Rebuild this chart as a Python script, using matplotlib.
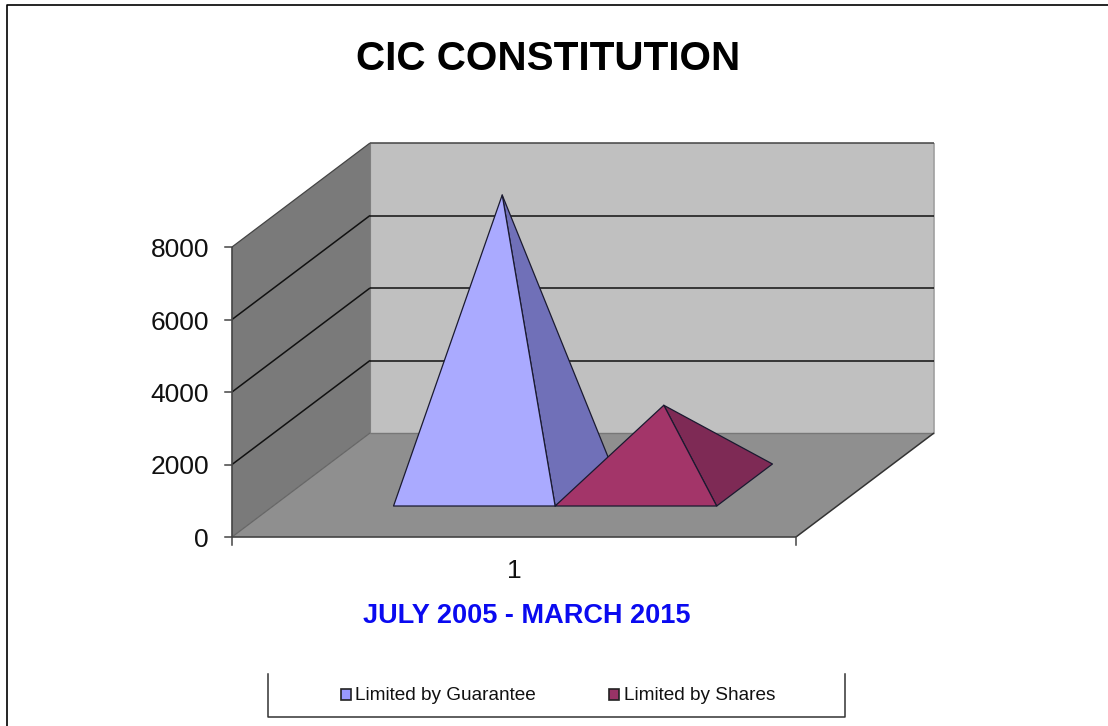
import matplotlib
matplotlib.use("Agg")
import matplotlib.pyplot as plt
from matplotlib.patches import Polygon, Rectangle

plt.rcParams['font.family'] = ['Liberation Sans', 'DejaVu Sans']

title = "CIC CONSTITUTION"
x_title = "JULY 2005 - MARCH 2015"
category = "1"
series_names = ["Limited by Guarantee", "Limited by Shares"]
series_values = [8000, 2200]
series_front = ["#AAAAFF", "#A33569"]
series_side = ["#7070B8", "#7E2A55"]
y_ticks = [0, 2000, 4000, 6000, 8000]
y_max = 8000

W, H = 1108, 726
fig = plt.figure(figsize=(W / 100, H / 100), dpi=100)
ax = fig.add_axes([0, 0, 1, 1])
ax.set_xlim(0, W)
ax.set_ylim(H, 0)
ax.axis("off")

# 3-D box projection in image pixels: u along the category axis, v value, d depth
FL = (232, 537)
BOX_W, BOX_H = 564, 290
DEPTH = (138, -104)


def proj(u, v, d):
    return (FL[0] + u * BOX_W + d * DEPTH[0],
            FL[1] - v / y_max * BOX_H + d * DEPTH[1])


def poly(pts, fc, ec="none", lw=0.0, z=1):
    ax.add_patch(Polygon(pts, closed=True, facecolor=fc, edgecolor=ec, linewidth=lw,
                         joinstyle="round", zorder=z))


def line(a, b, c="#111111", lw=1.1, z=2):
    ax.plot([a[0], b[0]], [a[1], b[1]], color=c, lw=lw, zorder=z, solid_capstyle="butt")


# walls and floor
poly([proj(0, 0, 1), proj(1, 0, 1), proj(1, y_max, 1), proj(0, y_max, 1)], "#C0C0C0")
poly([proj(0, 0, 0), proj(0, 0, 1), proj(0, y_max, 1), proj(0, y_max, 0)], "#7A7A7A")
poly([proj(0, 0, 0), proj(1, 0, 0), proj(1, 0, 1), proj(0, 0, 1)], "#8F8F8F")

line(proj(1, 0, 1), proj(1, y_max, 1), "#A0A0A0", 1.2)
line(proj(0, 0, 1), proj(0, y_max, 1), "#808080", 0.8)
line(proj(0, 0, 1), proj(1, 0, 1), "#777777", 1.0)
line(proj(0, 0, 0), proj(0, 0, 1), "#666666", 0.9)
line(proj(1, 0, 0), proj(1, 0, 1), "#333333", 1.1)
line(proj(0, y_max, 0), proj(0, y_max, 1), "#444444", 0.9)

for t in y_ticks[1:-1]:
    line(proj(0, t, 0), proj(0, t, 1))
for t in y_ticks[1:-1]:
    line(proj(0, t, 1), proj(1, t, 1))
line(proj(0, y_max, 1), proj(1, y_max, 1), "#444444", 1.1)

# axes and ticks
line(proj(0, 0, 0), proj(1, 0, 0), "#444444", 1.2, z=3)
line(proj(0, 0, 0), proj(0, y_max, 0), "#444444", 1.2, z=3)
for t in y_ticks:
    x, y = proj(0, t, 0)
    ax.plot([x - 7, x], [y, y], color="#444444", lw=1.1, zorder=3)
    ax.text(x - 23, y + 3, str(t), ha="right", va="center", fontsize=19, color="#111111")
for u in (0, 1):
    x, y = proj(u, 0, 0)
    ax.plot([x, x], [y, y + 8], color="#444444", lw=1.1, zorder=3)

# pyramids
BAR_W = 0.2865
D0, D1 = 0.298, 0.702
n = len(series_values)
start = 0.5 - BAR_W * n / 2
for i, (val, fc, sc) in enumerate(zip(series_values, series_front, series_side)):
    a, b = start + i * BAR_W, start + (i + 1) * BAR_W
    tip = proj((a + b) / 2, val, 0.5)
    p_fl, p_fr, p_br = proj(a, 0, D0), proj(b, 0, D0), proj(b, 0, D1)
    z = 5 + i
    poly([p_fr, p_br, tip], sc, "#1a1a30", 0.9, z)
    poly([p_fl, p_fr, tip], fc, "#1a1a30", 0.9, z)

# text
ax.text(548.5, 58.5, title, ha="center", va="center", fontsize=29.2, fontweight="bold", color="black")
ax.text(514, 571.5, category, ha="center", va="center", fontsize=19, color="#111111")
ax.text(526.5, 616, x_title, ha="center", va="center", fontsize=19.5, fontweight="bold", color="#0A0AF0")

# legend box, open at the top
ax.plot([267.5, 267.5, 845, 845], [674, 717, 717, 674], color="#333333", lw=1.1, zorder=3)
for name, fc, bx, tx in zip(series_names, ["#9999FF", "#993366"], [341, 609], [355, 624]):
    ax.add_patch(Rectangle((bx, 689), 10, 11, facecolor=fc, edgecolor="#222222", linewidth=1.2))
    ax.text(tx, 695.5, name, ha="left", va="center", fontsize=13.7, color="#111111")

# outer frame: left and top edges only
ax.plot([6.5, 6.5, W], [H, 4.5, 4.5], color="black", lw=1.2, zorder=3)

fig.savefig("out.png", dpi=100)
